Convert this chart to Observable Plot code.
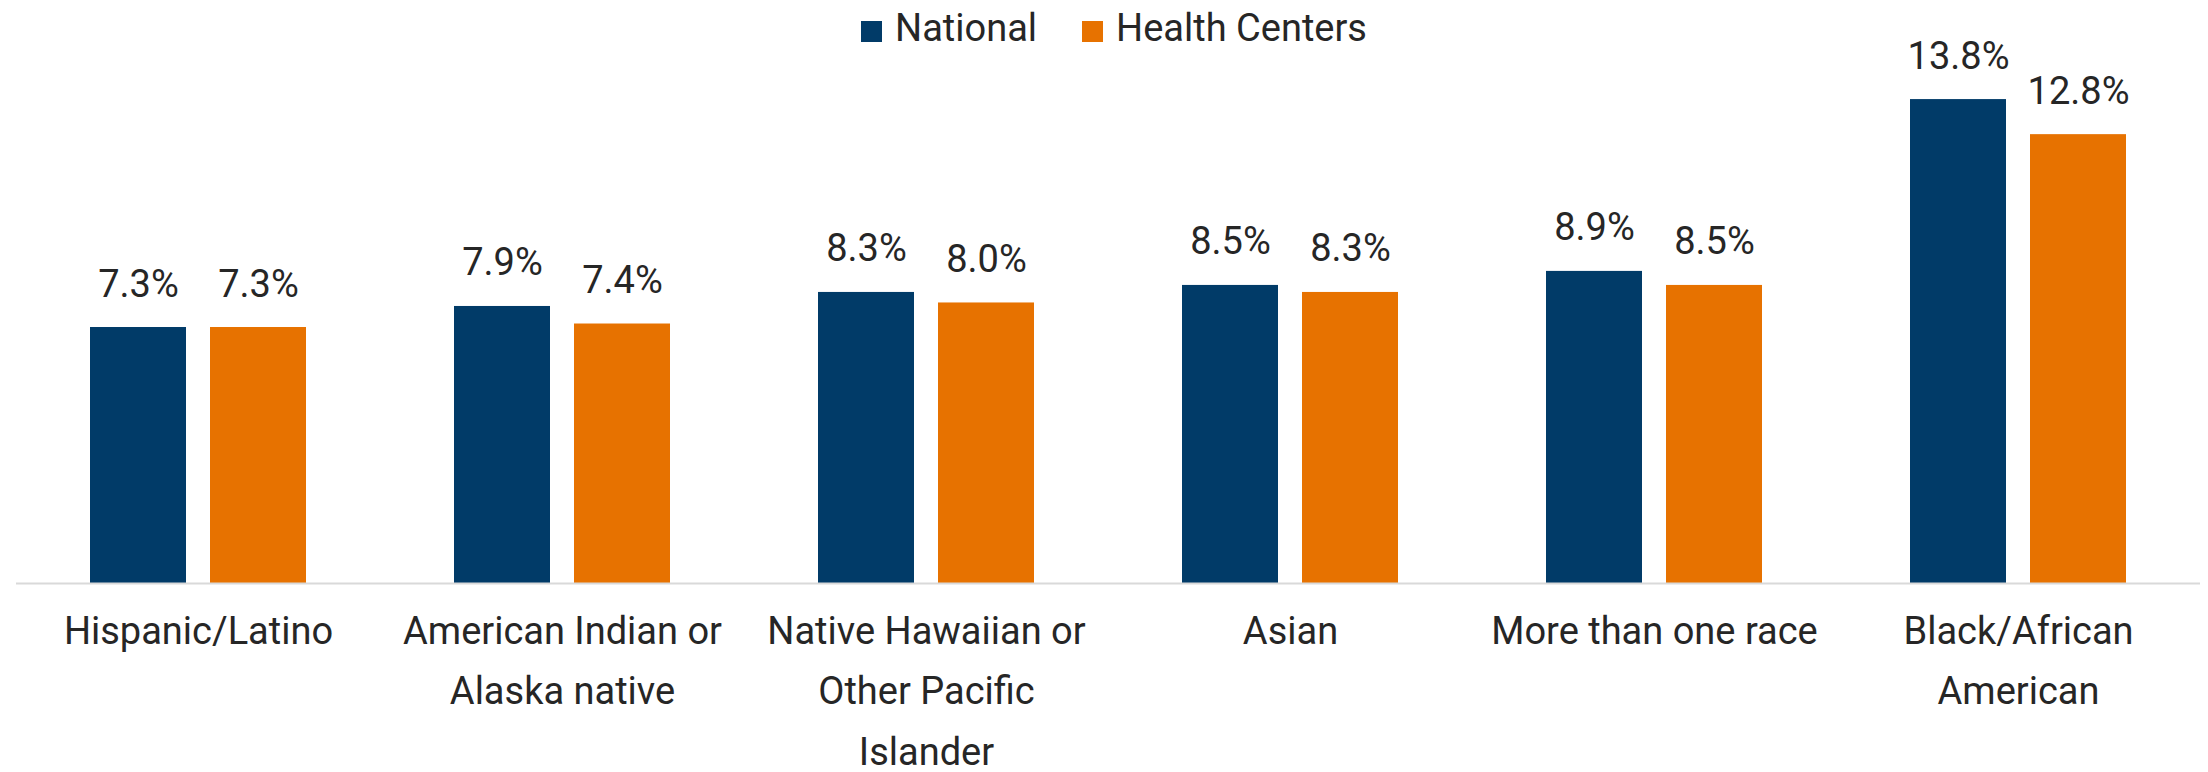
<!DOCTYPE html>
<html>
<head>
<meta charset="utf-8">
<script src="https://cdn.jsdelivr.net/npm/d3@7"></script>
<script src="https://cdn.jsdelivr.net/npm/@observablehq/plot@0.6"></script>
<style>
  html, body { margin: 0; padding: 0; background: #fff; }
  #wrap { position: relative; width: 2208px; height: 772px; }
  #legend { position: absolute; top: 9px; left: 10px; width: 2208px; display: flex; justify-content: center; gap: 45px;
            font-family: Roboto, sans-serif; font-size: 38px; line-height: 38px; color: #262626; }
  #legend .item { display: inline-flex; align-items: center; }
  #legend .sw { width: 21px; height: 21px; margin-right: 13px; position: relative; top: 3px; }
</style>
</head>
<body>
<div id="wrap"><div id="legend"></div></div>
<script>
const categories = ["Hispanic/Latino", "American Indian or Alaska native", "Native Hawaiian or Other Pacific Islander", "Asian", "More than one race", "Black/African American"];
const categoryLabels = ["Hispanic/Latino", "American Indian or\nAlaska native", "Native Hawaiian or\nOther Pacific\nIslander", "Asian", "More than one race", "Black/African\nAmerican"];
const series = ["National", "Health Centers"];
const national = [7.3, 7.9, 8.3, 8.5, 8.9, 13.8];
const healthCenters = [7.3, 7.4, 8.0, 8.3, 8.5, 12.8];
const colors = ["#013b68", "#e77200"];

const data = [];
categories.forEach((c, i) => {
  data.push({category: c, series: series[0], value: national[i]});
  data.push({category: c, series: series[1], value: healthCenters[i]});
});

const legend = document.getElementById("legend");
series.forEach((s, i) => {
  const item = document.createElement("span");
  item.className = "item";
  const sw = document.createElement("span");
  sw.className = "sw";
  sw.style.background = colors[i];
  item.appendChild(sw);
  item.appendChild(document.createTextNode(s));
  legend.appendChild(item);
});

const labelOf = d => categoryLabels[categories.indexOf(d)];

const chart = Plot.plot({
  width: 2208,
  height: 772,
  marginLeft: 15,
  marginRight: 7,
  marginTop: 57,
  marginBottom: 189,
  style: {fontFamily: "Roboto, sans-serif", fontSize: "38px", color: "#262626", background: "transparent"},
  fx: {domain: categories, padding: 0, label: null},
  x: {domain: series, paddingInner: 0.198, paddingOuter: 0.604, axis: null},
  y: {domain: [0, 15], axis: null},
  color: {domain: series, range: colors},
  marks: [
    Plot.barY(data, {fx: "category", x: "series", y: "value", fill: "series"}),
    Plot.text(data, {fx: "category", x: "series", y: "value", text: d => d.value.toFixed(1) + "%",
      lineAnchor: "bottom", dy: -31, fontSize: 38, fill: "#262626"}),
    Plot.ruleY([0], {stroke: "#d9d9d9", strokeWidth: 2}),
    Plot.axisFx({anchor: "bottom", tickSize: 0, tickPadding: 17, fontSize: 38, lineHeight: 1.6,
      label: null, tickFormat: labelOf, fill: "#262626"})
  ]
});
chart.style.position = "absolute";
chart.style.top = "0";
chart.style.left = "0";
document.getElementById("wrap").insertBefore(chart, legend);
</script>
</body>
</html>
